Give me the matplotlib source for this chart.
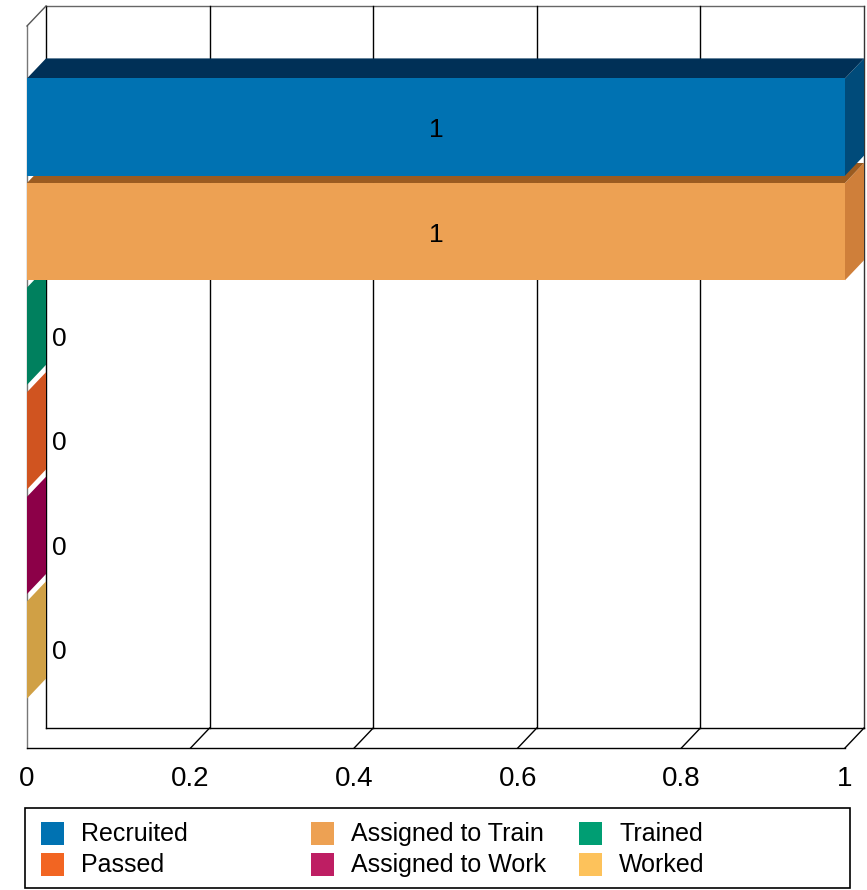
import matplotlib
matplotlib.use("Agg")
import matplotlib.pyplot as plt
from matplotlib.patches import Polygon, Rectangle
from matplotlib.transforms import IdentityTransform
import numpy as np

plt.rcParams['font.family'] = ['Liberation Sans', 'DejaVu Sans']

# data
series = ["Recruited", "Assigned to Train", "Trained", "Passed", "Assigned to Work", "Worked"]
values = [1, 1, 0, 0, 0, 0]
front_colors = ["#0072B2", "#EDA153", "#009E73", "#F26522", "#BE1E63", "#FDC25B"]
top_colors = ["#003057", "#9B5B20", "#00654A", "#A8431A", "#700038", "#B08538"]
side_colors = ["#004B7A", "#CF7F3A", "#00805E", "#D05420", "#8C0048", "#D0A045"]
xticks = [0, 0.2, 0.4, 0.6, 0.8, 1]
xtick_labels = ["0", "0.2", "0.4", "0.6", "0.8", "1"]
legend_rows = [["Recruited", "Assigned to Train", "Trained"],
               ["Passed", "Assigned to Work", "Worked"]]

W, H = 867, 890
DX, DY = 19, 20   # depth offset in pixels
fig = plt.figure(figsize=(W / 100, H / 100), dpi=100)
ax = fig.add_axes([27 / W, (H - 748) / H, 818 / W, 722 / H])
ax.set_xlim(0, 1)
ax.set_ylim(5.937, -0.966)
ax.set_facecolor("none")
for s in ax.spines.values():
    s.set_visible(False)
ax.set_yticks([])
ax.set_xticks(xticks, xtick_labels)
ax.tick_params(axis="x", length=0, pad=13, labelsize=20)

ident = IdentityTransform()


def pt(x, y, d=0):
    px, py = ax.transData.transform((x, y))
    return (px + d * DX, py + d * DY)


def line(p, q, color="black", lw=1.0):
    ax.add_line(plt.Line2D([p[0], q[0]], [p[1], q[1]], transform=ident,
                           color=color, lw=lw, zorder=1, clip_on=False))


ybot, ytop = ax.get_ylim()

# walls and floor
line(pt(0, ytop, 1), pt(1, ytop, 1), "#666666")
line(pt(1, ytop, 1), pt(1, ybot, 1), "#333333")
line(pt(0, ytop, 1), pt(0, ybot, 1))
line(pt(0, ybot, 1), pt(1, ybot, 1))
line(pt(0, ytop, 0), pt(0, ybot, 0), "#777777")
line(pt(0, ytop, 0), pt(0, ytop, 1), "#555555")
line(pt(0, ybot, 0), pt(1, ybot, 0))
for v in xticks[1:]:
    line(pt(v, ybot, 0), pt(v, ybot, 1))
    if v < 1:
        line(pt(v, ybot, 1), pt(v, ytop, 1))

# bars, drawn bottom to top so upper fronts cover lower tops
h = 0.93
for i in range(len(series) - 1, -1, -1):
    v = values[i]
    y0, y1 = i - h / 2, i + h / 2   # y0 is the upper edge (inverted axis)
    side = [pt(v, y0, 0), pt(v, y1, 0), pt(v, y1, 1), pt(v, y0, 1)]
    top = [pt(0, y0, 0), pt(v, y0, 0), pt(v, y0, 1), pt(0, y0, 1)]
    front = [pt(0, y0, 0), pt(v, y0, 0), pt(v, y1, 0), pt(0, y1, 0)]
    for poly, col in [(side, side_colors[i]), (top, top_colors[i]), (front, front_colors[i])]:
        ax.add_patch(Polygon(poly, closed=True, transform=ident, facecolor=col,
                             edgecolor="none", zorder=2, clip_on=False))

# value labels
for i, v in enumerate(values):
    if v > 0:
        ax.annotate(str(v), (v / 2, i), xytext=(0, -3), textcoords="offset pixels",
                    ha="center", va="center", fontsize=19, zorder=5)
    else:
        ax.annotate(str(v), (v, i), xytext=(25, -2.5), textcoords="offset pixels",
                    ha="left", va="center", fontsize=19, zorder=5)

# legend box
fig.add_artist(Rectangle((25, H - 888), 825, 80, transform=ident, facecolor="white",
                         edgecolor="black", lw=1.2, zorder=3))
col_x = [41, 311, 579]
row_y = [H - 834, H - 865]
for r, names in enumerate(legend_rows):
    for c, name in enumerate(names):
        col = front_colors[series.index(name)]
        fig.add_artist(Rectangle((col_x[c], row_y[r] - 11), 23, 23, transform=ident,
                                 facecolor=col, edgecolor="none", zorder=4))
        fig.text((col_x[c] + 40) / W, row_y[r] / H, name, ha="left", va="center",
                 fontsize=18, zorder=5)

fig.savefig("out.png", dpi=100)
